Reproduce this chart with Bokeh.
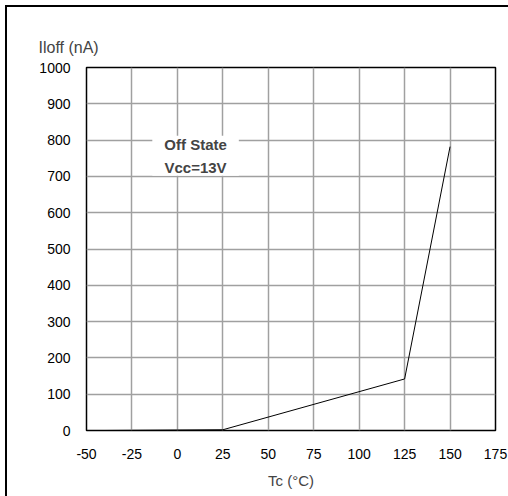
from bokeh.plotting import figure
from bokeh.models import FixedTicker, Label, Title, Range1d, InlineStyleSheet
from bokeh.embed import file_html
from bokeh.resources import INLINE

tc = [-40, 25, 125, 150]
iloff = [0, 2, 142, 782]
x_ticks = [-50, -25, 0, 25, 50, 75, 100, 125, 150, 175]
y_ticks = [0, 100, 200, 300, 400, 500, 600, 700, 800, 900, 1000]

FONT = "Liberation Sans"

p = figure(width=508, height=496, output_backend="svg", toolbar_location=None,
           x_range=Range1d(-50, 175), y_range=Range1d(0, 1000),
           min_border_left=86, min_border_right=13, min_border_top=67, min_border_bottom=66)
p.stylesheets = [InlineStyleSheet(css=":host { position: fixed; left: 0px; top: 0px; background: white; box-shadow: inset 5px 5px 0 0 white, inset 7px 7px 0 0 black; }")]

p.background_fill_color = "white"
p.border_fill_color = None
p.outline_line_color = "black"
p.outline_line_width = 1.5

for ax in (p.xaxis, p.yaxis):
    ax.axis_line_color = None
    ax.major_tick_line_color = None
    ax.minor_tick_line_color = None
    ax.major_tick_out = 0
    ax.major_tick_in = 0
    ax.major_label_text_font = FONT
    ax.major_label_text_font_size = "14px"
    ax.major_label_text_color = "black"

p.xaxis.ticker = FixedTicker(ticks=x_ticks)
p.yaxis.ticker = FixedTicker(ticks=y_ticks)
p.xaxis.major_label_overrides = {v: str(v) for v in x_ticks}
p.xaxis.major_label_standoff = 18
p.yaxis.major_label_standoff = 16
p.xaxis.axis_label = "Tc (°C)"
p.xaxis.axis_label_text_font = FONT
p.xaxis.axis_label_text_font_style = "normal"
p.xaxis.axis_label_text_font_size = "15px"
p.xaxis.axis_label_standoff = 10

p.grid.grid_line_color = "#a0a0a0"
p.grid.grid_line_width = 1.5

t = Title(text="Iloff (nA)", align="left", offset=-48, text_font=FONT,
          text_font_size="16px", text_font_style="normal", standoff=24)
p.add_layout(t, "above")

p.line(tc, iloff, line_color="black", line_width=1)

lab = Label(x=10, y=757, text="Off State\nVcc=13V", text_align="center",
            text_baseline="middle", text_font=FONT, text_font_size="15px",
            text_font_style="bold", text_line_height=1.35,
            background_fill_color="white",
            padding=dict(left=12, right=12, top=0, bottom=0))
p.add_layout(lab)

open("out.html", "w").write(file_html(p, INLINE))
